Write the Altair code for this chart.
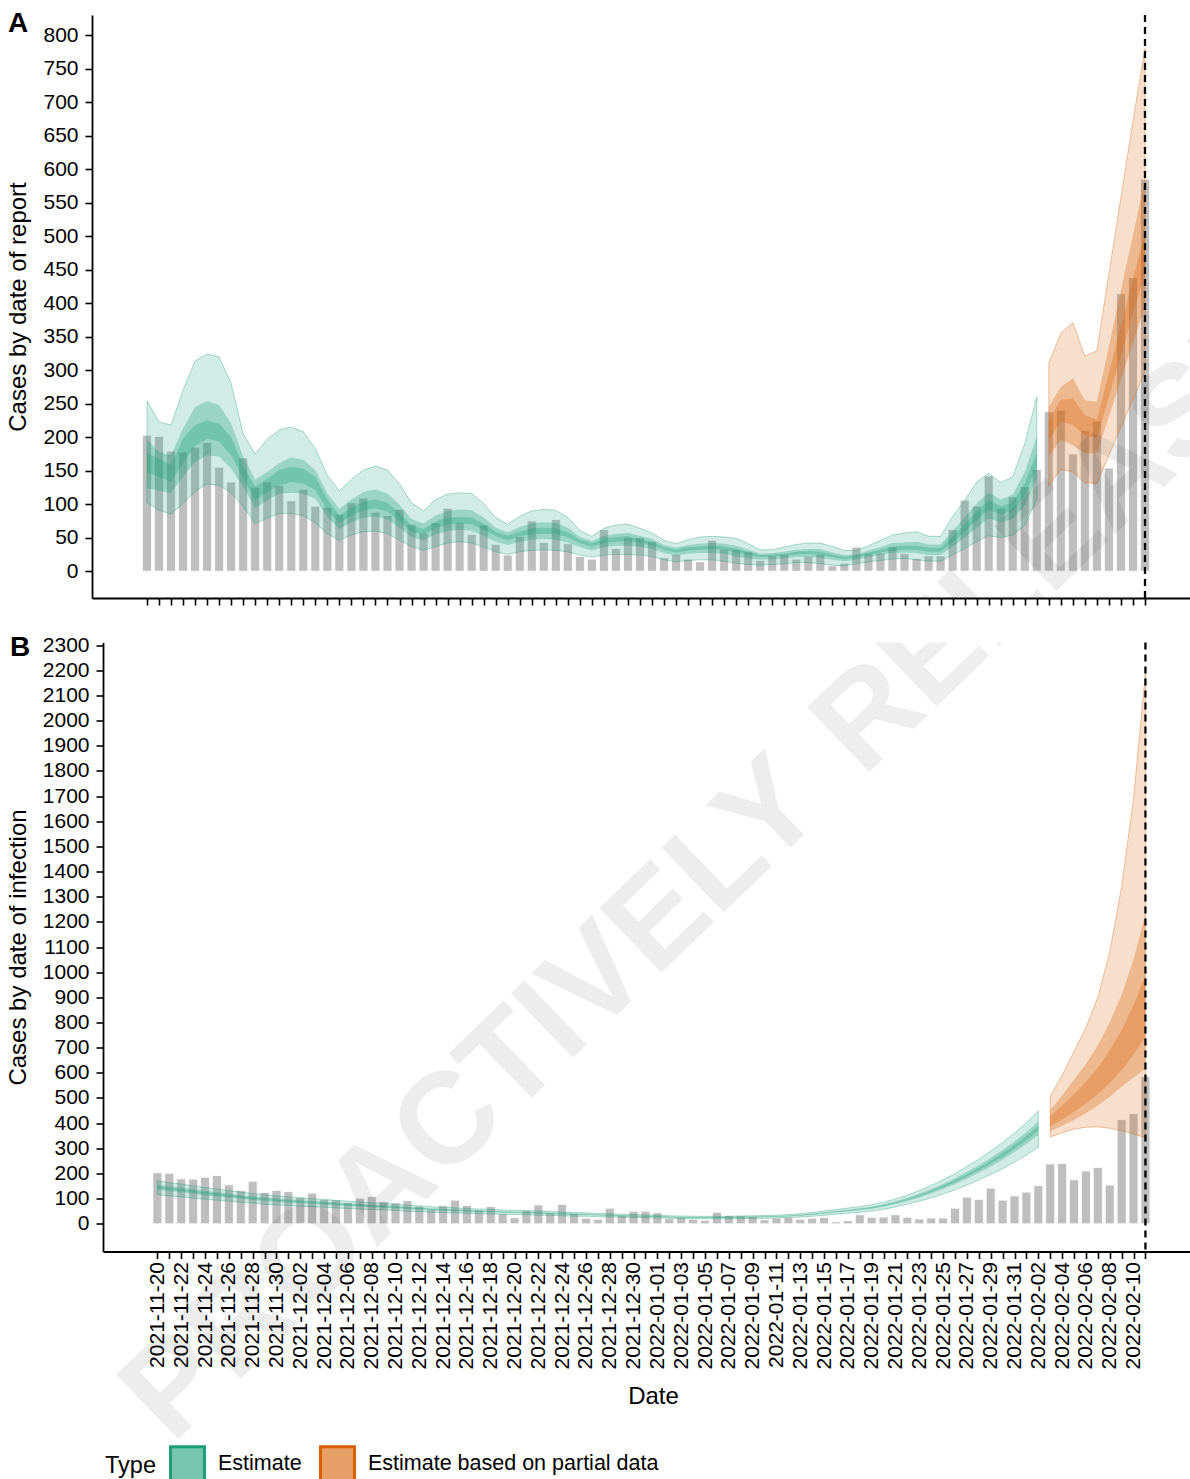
import math

import altair as alt
import pandas as pd

FONT = "Liberation Sans"
GREEN = "#1B9E77"
ORANGE = "#D95F02"
BAR_GREY = "#BEBEBE"

# ---------------------------------------------------------------- data
dates = pd.date_range("2021-11-20", "2022-02-11", freq="D").strftime("%Y-%m-%d").tolist()
type_names = ["Estimate", "Estimate based on partial data"]
types = [type_names[0]] * 75 + [type_names[1]] * 9

reported_cases = [
    203, 201, 179, 178, 185, 192, 155, 133, 169, 125,
    133, 128, 105, 122, 97, 95, 85, 102, 109, 88,
    83, 92, 70, 57, 72, 94, 73, 55, 69, 40,
    24, 52, 75, 43, 77, 41, 22, 18, 62, 34,
    50, 50, 44, 20, 25, 18, 14, 46, 33, 32,
    29, 16, 23, 25, 18, 22, 25, 8, 12, 36,
    26, 27, 36, 26, 19, 23, 23, 62, 106, 97,
    142, 94, 111, 126, 152, 238, 240, 175, 210, 224,
    154, 414, 438, 585,
]

# credible intervals, cases by date of report
report_lo90 = [
    102, 91, 85, 101, 119, 130, 128, 117, 96, 71,
    79, 86, 86, 83, 72, 56, 46, 54, 59, 60,
    56, 46, 37, 31, 37, 42, 44, 42, 36, 29,
    25, 29, 31, 32, 31, 29, 24, 21, 24, 25,
    25, 24, 22, 17, 14, 16, 17, 17, 15, 12,
    10, 9, 10, 11, 13, 13, 11, 9, 8, 11,
    14, 16, 18, 19, 17, 15, 15, 24, 34, 44,
    53, 50, 54, 68, 107,
    127, 152, 148, 132, 131, 173, 215, 256, 298,
]
report_up90 = [
    254, 223, 218, 270, 314, 324, 320, 280, 205, 175,
    197, 211, 215, 208, 183, 143, 120, 137, 151, 157,
    151, 130, 102, 90, 107, 115, 117, 116, 101, 80,
    70, 82, 90, 92, 91, 80, 61, 52, 64, 69,
    70, 64, 57, 46, 41, 47, 51, 52, 51, 49,
    41, 32, 32, 36, 40, 42, 42, 37, 31, 31,
    38, 46, 54, 57, 59, 52, 52, 82, 106, 133,
    146, 132, 141, 190, 260,
    311, 355, 371, 321, 329, 444, 558, 672, 780,
]
report_lo50 = [
    124, 120, 117, 141, 163, 173, 171, 153, 126, 94,
    106, 116, 117, 116, 108, 81, 63, 73, 80, 82,
    77, 65, 51, 46, 55, 60, 62, 60, 53, 44,
    39, 44, 47, 48, 47, 43, 36, 31, 36, 38,
    38, 36, 33, 27, 23, 26, 27, 27, 26, 22,
    19, 17, 18, 19, 21, 21, 20, 17, 15, 17,
    21, 24, 27, 28, 27, 24, 24, 37, 50, 65,
    79, 73, 78, 98, 139,
    171, 196, 188, 176, 176, 231, 286, 341, 395,
]
report_up50 = [
    196, 178, 173, 213, 245, 254, 248, 220, 171, 137,
    148, 161, 170, 166, 151, 116, 93, 107, 118, 122,
    116, 99, 78, 71, 83, 90, 92, 91, 80, 65,
    58, 66, 71, 73, 72, 65, 51, 45, 53, 56,
    57, 53, 48, 39, 35, 39, 41, 42, 41, 38,
    32, 26, 27, 29, 32, 33, 33, 28, 24, 25,
    31, 36, 42, 43, 44, 40, 40, 60, 80, 101,
    117, 107, 114, 148, 201,
    245, 275, 288, 255, 253, 336, 419, 502, 585,
]
report_lo20 = [
    148, 141, 133, 161, 187, 198, 193, 173, 138, 106,
    118, 128, 133, 131, 121, 91, 72, 83, 91, 94,
    89, 75, 59, 55, 64, 70, 71, 70, 62, 52,
    46, 52, 55, 56, 55, 51, 42, 37, 42, 44,
    45, 42, 39, 32, 28, 31, 32, 33, 32, 28,
    24, 21, 22, 23, 25, 26, 24, 21, 18, 20,
    24, 28, 31, 32, 32, 29, 29, 43, 59, 76,
    92, 85, 90, 113, 156,
    196, 223, 218, 203, 199, 260, 322, 384, 445,
]
report_up20 = [
    176, 168, 158, 198, 218, 225, 220, 200, 157, 126,
    138, 151, 156, 153, 141, 107, 83, 95, 104, 107,
    102, 87, 68, 63, 74, 80, 81, 80, 71, 59,
    53, 59, 64, 65, 64, 58, 47, 42, 48, 51,
    52, 48, 44, 36, 32, 36, 37, 38, 37, 33,
    29, 24, 25, 26, 29, 30, 29, 25, 21, 23,
    28, 32, 37, 38, 38, 35, 35, 52, 69, 89,
    106, 97, 103, 131, 177,
    225, 256, 258, 233, 226, 296, 366, 436, 505,
]

# credible intervals, cases by date of infection
infect_lo90 = [
    116, 111, 107, 102, 98, 94, 90, 86, 82, 78,
    75, 73, 70, 68, 66, 63, 61, 59, 57, 55,
    53, 50, 49, 46, 45, 43, 42, 40, 39, 38,
    37, 36, 34, 34, 32, 30, 30, 28, 27, 26,
    25, 24, 23, 22, 21, 20, 20, 20, 20, 21,
    22, 22, 23, 25, 27, 30, 34, 38, 42, 46,
    51, 58, 67, 78, 90, 103, 118, 135, 154, 174,
    196, 219, 245, 273, 304,
    345, 362, 376, 384, 385, 380, 370, 357, 342,
]
infect_up90 = [
    171, 164, 158, 151, 144, 138, 132, 126, 120, 116,
    111, 107, 104, 100, 97, 93, 90, 87, 84, 81,
    78, 74, 72, 68, 66, 64, 61, 59, 58, 55,
    54, 53, 51, 50, 47, 45, 44, 41, 40, 38,
    37, 35, 34, 32, 31, 30, 30, 30, 30, 31,
    32, 33, 34, 37, 40, 45, 51, 57, 63, 68,
    76, 86, 99, 114, 132, 152, 175, 199, 228, 257,
    289, 323, 361, 402, 448,
    507, 590, 685, 780, 900, 1080, 1340, 1690, 2190,
]
infect_lo50 = [
    135, 129, 125, 119, 113, 109, 104, 100, 95, 91,
    87, 85, 82, 79, 76, 73, 71, 69, 66, 64,
    61, 59, 57, 54, 52, 50, 48, 47, 46, 44,
    43, 42, 40, 39, 37, 35, 34, 33, 32, 30,
    29, 28, 27, 25, 24, 23, 23, 23, 23, 24,
    25, 26, 27, 29, 32, 35, 40, 45, 49, 54,
    60, 68, 78, 90, 104, 120, 138, 157, 179, 203,
    228, 255, 285, 317, 353,
    368, 390, 413, 440, 470, 505, 545, 580, 617,
]
infect_up50 = [
    155, 149, 143, 137, 131, 125, 120, 114, 109, 105,
    101, 97, 94, 91, 88, 85, 81, 79, 76, 74,
    71, 67, 65, 62, 60, 58, 56, 54, 52, 50,
    49, 48, 46, 45, 43, 41, 40, 37, 36, 34,
    33, 32, 31, 29, 28, 27, 27, 27, 27, 28,
    29, 30, 31, 33, 36, 41, 46, 51, 57, 62,
    68, 78, 90, 104, 120, 138, 158, 181, 207, 233,
    262, 293, 327, 365, 407,
    452, 510, 573, 635, 710, 800, 910, 1050, 1232,
]
infect_lo20 = [
    141, 136, 131, 125, 119, 114, 109, 104, 99, 96,
    92, 89, 86, 83, 80, 77, 74, 72, 69, 67,
    64, 61, 59, 57, 55, 53, 51, 49, 48, 46,
    45, 44, 42, 41, 39, 37, 36, 34, 33, 31,
    30, 29, 28, 26, 25, 24, 24, 24, 24, 25,
    26, 27, 28, 30, 33, 37, 42, 47, 52, 57,
    62, 71, 82, 95, 109, 126, 144, 165, 188, 213,
    239, 267, 298, 332, 370,
    389, 415, 445, 478, 515, 560, 610, 672, 744,
]
infect_up20 = [
    149, 142, 137, 131, 125, 120, 115, 110, 105, 100,
    96, 93, 90, 87, 84, 81, 78, 76, 73, 71,
    68, 65, 63, 59, 57, 55, 53, 51, 50, 48,
    47, 46, 44, 43, 41, 39, 38, 36, 35, 33,
    32, 31, 30, 28, 27, 26, 26, 26, 26, 27,
    28, 29, 30, 32, 35, 39, 44, 49, 54, 59,
    66, 75, 86, 99, 115, 132, 152, 173, 198, 223,
    251, 281, 314, 350, 390,
    428, 470, 515, 565, 620, 690, 770, 870, 988,
]

report_ticks = list(range(0, 801, 50))
infect_ticks = list(range(0, 2301, 100))
panel_tags = ["A", "B"]
watermark_words = ["PROACTIVELY", "RELEASED"]


def frame(lo90, up90, lo50, up50, lo20, up20):
    return pd.DataFrame({
        "date": dates, "type": types, "cases": reported_cases,
        "lo90": lo90, "up90": up90, "lo50": lo50,
        "up50": up50, "lo20": lo20, "up20": up20,
    })


report_df = frame(report_lo90, report_up90, report_lo50, report_up50, report_lo20, report_up20)
infect_df = frame(infect_lo90, infect_up90, infect_lo50, infect_up50, infect_lo20, infect_up20)

# ---------------------------------------------------------------- layout
DAY_MS = 86_400_000
day_ms = [int(pd.Timestamp(d, tz="UTC").value // 1_000_000) for d in dates]
x_domain = [day_ms[0] - 4.574 * DAY_MS, day_ms[-1] + 3.743 * DAY_MS]
PANEL_W = 1098
H_A, H_B = 583, 609
GAP = 44.5
B_SHIFT = 11          # panel B's plot starts a little further right
ORIGIN_A = (92, 15)   # page position of panel A's plot area
ORIGIN_B = (92, ORIGIN_A[1] + H_A + GAP)

label_expr = (
    f"round((datum.value - {day_ms[0]}) / {DAY_MS}) % 2 == 0"
    " ? utcFormat(datum.value, '%Y-%m-%d') : ''"
)

axis_common = dict(grid=False, domainColor="black", tickColor="black", domainWidth=1.8,
                   tickWidth=1.6, tickSize=7, labelColor="black", titleColor="black",
                   labelFont=FONT, titleFont=FONT, titleFontWeight="normal")

x_axis_a = alt.Axis(values=day_ms, labels=False, title=None, **axis_common)
x_axis_b = alt.Axis(values=day_ms, labelExpr=label_expr, labelAngle=270, labelAlign="right",
                    labelBaseline="middle", labelFontSize=21, labelPadding=3,
                    labelOverlap=False, labelFlush=False, title="Date", titleFontSize=24,
                    titleX=561, titleY=152, titleBaseline="alphabetic", **axis_common)

# watermark geometry (page coordinates of the baseline start, rotation, size)
WM_SIZE = 130
WM_ANGLE = -44.0
WM_START = (172, 1445)
_adv = 7.39 * WM_SIZE
WM_SECOND = (WM_START[0] + _adv * math.cos(math.radians(WM_ANGLE)),
             WM_START[1] + _adv * math.sin(math.radians(WM_ANGLE)))


def watermark(word, page_xy, origin, clip):
    return alt.Chart(pd.DataFrame({"w": [word]})).mark_text(
        font=FONT, fontWeight="bold", fontSize=WM_SIZE, angle=360 + WM_ANGLE,
        align="left", baseline="alphabetic", color="black", opacity=0.065, clip=clip,
    ).encode(text="w:N", x=alt.value(page_xy[0] - origin[0]), y=alt.value(page_xy[1] - origin[1]))


def panel(df, tag, tag_xy, y_domain, y_ticks, y_title, height, x_range, x_axis,
          y_offset, title_x, extra):
    xs = alt.Scale(type="utc", domain=x_domain, range=x_range, padding=0)
    ys = alt.Scale(domain=y_domain, nice=False, zero=False)
    y_axis = alt.Axis(values=y_ticks, format="d", title=y_title, offset=y_offset,
                      labelFontSize=21, labelPadding=7, titleFontSize=24, titleAngle=270,
                      titleX=title_x, titleBaseline="alphabetic", **axis_common)
    X = alt.X("date:T", scale=xs, axis=x_axis)

    def Y(field):
        return alt.Y(f"{field}:Q", scale=ys, axis=y_axis)

    base = alt.Chart(df)
    layers = [
        base.mark_bar(size=9, color=BAR_GREY, stroke="white", strokeWidth=0.8)
        .encode(x=X, y=Y("cases"), y2=alt.datum(0))
    ]
    for tname, col in zip(type_names, [GREEN, ORANGE]):
        sub = base.transform_filter(alt.datum.type == tname)
        layers.append(sub.mark_area(fill=col, fillOpacity=0.2, stroke=col, strokeWidth=0.6,
                                    strokeOpacity=0.6)
                      .encode(x=X, y=Y("lo90"), y2=alt.Y2("up90")))
        layers.append(sub.mark_area(fill=col, fillOpacity=0.3)
                      .encode(x=X, y=Y("lo50"), y2=alt.Y2("up50")))
        layers.append(sub.mark_area(fill=col, fillOpacity=0.3)
                      .encode(x=X, y=Y("lo20"), y2=alt.Y2("up20")))
    layers.append(
        alt.Chart(pd.DataFrame({"date": [dates[-1]]}))
        .mark_rule(color="black", strokeDash=[7, 5], strokeWidth=2.3)
        .encode(x=X)
    )
    layers.append(
        alt.Chart(pd.DataFrame({"tag": [tag]}))
        .mark_text(font=FONT, fontWeight="bold", fontSize=28, align="left",
                   baseline="alphabetic", color="black")
        .encode(text="tag:N", x=alt.value(tag_xy[0]), y=alt.value(tag_xy[1]))
    )
    layers += extra
    return alt.layer(*layers).properties(width=PANEL_W, height=height)


legend = alt.Legend(
    orient="none", legendX=13, legendY=1430, direction="horizontal", titleOrient="left",
    titleFontSize=23.5, titleFontWeight="normal", titleFont=FONT, titleColor="black",
    labelFont=FONT, labelFontSize=21.5, labelColor="black", labelLimit=0,
    symbolType="square", symbolSize=1150, symbolStrokeWidth=3, symbolOpacity=1,
    labelOffset=12, columnPadding=12, titlePadding=13, titleBaseline="middle",
)
legend_layer = alt.Chart(pd.DataFrame({"type": type_names})).mark_point(
    shape="square", filled=True, size=1150, strokeWidth=3, opacity=1, clip=True
).encode(
    x=alt.value(-3000), y=alt.value(-3000),
    fill=alt.Fill("type:N", title="Type", legend=legend,
                  scale=alt.Scale(domain=type_names, range=["#76C5AD", "#E89F67"])),
    stroke=alt.Stroke("type:N", title="Type", legend=legend,
                      scale=alt.Scale(domain=type_names, range=[GREEN, ORANGE])),
)

panel_a = panel(
    report_df, panel_tags[0], (-84, 17), [-40, 830], report_ticks,
    "Cases by date of report", H_A, [0, PANEL_W], x_axis_a, 0, -67,
    [watermark(watermark_words[1], WM_SECOND, ORIGIN_A, True)],
)
panel_b = panel(
    infect_df, panel_tags[1], (-82, 13), [-110, 2310], infect_ticks,
    "Cases by date of infection", H_B, [B_SHIFT, PANEL_W], x_axis_b, -B_SHIFT, -78,
    [legend_layer,
     watermark(watermark_words[0], WM_START, ORIGIN_B, False),
     watermark(watermark_words[1], WM_SECOND, ORIGIN_B, True)],
)

chart = (
    alt.vconcat(panel_a, panel_b, spacing=GAP, bounds="flush")
    .properties(padding={"left": 6, "top": 10, "right": 0, "bottom": 0}, background="white")
    .configure_view(stroke=None)
)

chart.save("out.html", embed_options={"renderer": "svg", "actions": False})
